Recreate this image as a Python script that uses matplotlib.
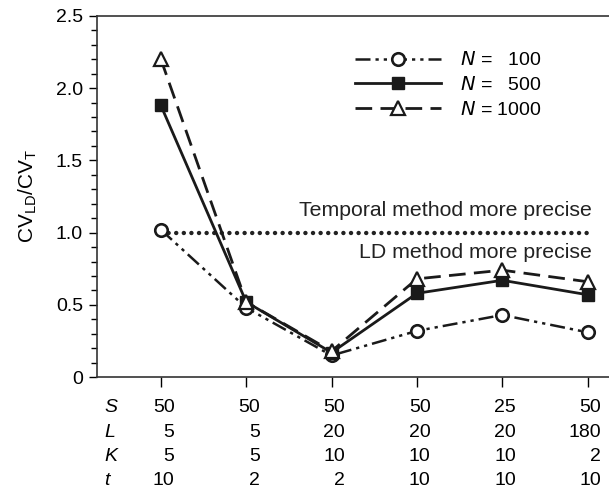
import matplotlib
matplotlib.use("Agg")
import matplotlib.pyplot as plt
from matplotlib.ticker import MultipleLocator, FixedLocator

plt.rcParams["font.family"] = ["Liberation Sans", "DejaVu Sans"]
plt.rcParams["mathtext.default"] = "regular"

# scenario parameters shown under the x axis
row_names = ["S", "L", "K", "t"]
S = ["50", "50", "50", "50", "25", "50"]
L = ["5", "5", "20", "20", "20", "180"]
K = ["5", "5", "10", "10", "10", "2"]
t = ["10", "2", "2", "10", "10", "10"]

# CV_LD / CV_T for each sample size
n100 = [1.02, 0.48, 0.15, 0.32, 0.43, 0.31]
n500 = [1.88, 0.52, 0.17, 0.58, 0.67, 0.57]
n1000 = [2.20, 0.52, 0.18, 0.68, 0.74, 0.66]

x = list(range(len(S)))

fig = plt.figure(figsize=(6.09, 4.93), dpi=100)
ax = fig.add_axes([0.159, 0.235, 0.841, 0.733])

fs = 14

# threshold line
ax.plot([x[0], x[-1]], [1.0, 1.0], color="#222222", lw=3.2,
        dashes=[0.01, 1.7], dash_capstyle="round")
ax.text(5.05, 1.15, "Temporal method more precise", ha="right", va="center", fontsize=15.3, color="#222222")
ax.text(5.05, 0.86, "LD method more precise", ha="right", va="center", fontsize=15.3, color="#222222")

ax.plot(x, n100, color="#1a1a1a", lw=1.8, dashes=[6, 2, 1.3, 2, 1.3, 2],
        marker="o", ms=9, mfc="white", mec="#1a1a1a", mew=1.9, label=r"$\it{N}$ =   100", zorder=3)
ax.plot(x, n500, color="#1a1a1a", lw=2.0, ls="-",
        marker="s", ms=9, mfc="#1a1a1a", mec="#1a1a1a", label=r"$\it{N}$ =   500", zorder=4)
ax.plot(x, n1000, color="#1a1a1a", lw=2.0, dashes=[6, 3],
        marker="^", ms=10, mfc="white", mec="#1a1a1a", mew=1.6, label=r"$\it{N}$ = 1000", zorder=5)

ax.set_xlim(-0.75, 5.25)
ax.set_ylim(0, 2.5)
ax.yaxis.set_major_locator(FixedLocator([0, 0.5, 1.0, 1.5, 2.0, 2.5]))
ax.set_yticklabels(["0", "0.5", "1.0", "1.5", "2.0", "2.5"], fontsize=fs)
ax.yaxis.set_minor_locator(MultipleLocator(0.1))
ax.set_xticks(x)
ax.set_xticklabels([])
ax.tick_params(axis="y", which="major", direction="out", length=6, width=1, pad=4)
ax.tick_params(axis="y", which="minor", direction="out", length=4, width=1)
ax.tick_params(axis="x", direction="out", length=7, width=1)

ax.spines["right"].set_visible(False)
for sp in ["left", "bottom", "top"]:
    ax.spines[sp].set_linewidth(1.2)
    ax.spines[sp].set_color("#333333")

ax.set_ylabel(r"CV$_{LD}$/CV$_{T}$", fontsize=15, labelpad=12)

# parameter table below the axis
trans = ax.get_xaxis_transform()
row_y = [-0.085, -0.152, -0.219, -0.285]
for name, vals, yy in zip(row_names, [S, L, K, t], row_y):
    ax.text(-0.66, yy, name, transform=trans, ha="left", va="center",
            fontsize=fs, style="italic", clip_on=False)
    for xi, v in zip(x, vals):
        ax.text(xi + 0.16, yy, v, transform=trans, ha="right", va="center",
                fontsize=fs, clip_on=False)

ax.legend(loc="upper left", bbox_to_anchor=(0.47, 0.95), frameon=False,
          fontsize=fs, handlelength=4.4, handletextpad=1.0, labelspacing=0.35)

fig.savefig("out.png", dpi=100)
